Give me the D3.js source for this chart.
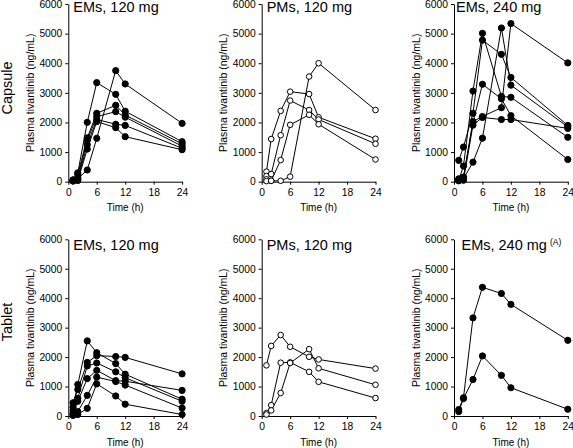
<!DOCTYPE html>
<html><head><meta charset="utf-8">
<script src="https://cdn.jsdelivr.net/npm/d3@7"></script>
<style>
body{margin:0;background:#fff;}
svg{display:block;font-family:"Liberation Sans",Arial,sans-serif;}
.axis path,.axis line{stroke:#000;stroke-width:1;}
.axis text{font-size:10.3px;fill:#000;font-family:"Liberation Sans",Arial,sans-serif;}
</style></head><body>
<script>
// ---- data ----
const times = [1, 2, 4, 6, 10, 12, 24];
const xTicks = [0, 6, 12, 18, 24];
const yTicks = [0, 1000, 2000, 3000, 4000, 5000, 6000];
const rowLabels = ["Capsule", "Tablet"];
const panelTitles = ["EMs, 120 mg", "PMs, 120 mg", "EMs, 240 mg", "EMs, 120 mg", "PMs, 120 mg", "EMs, 240 mg"];
const titleNotes = ["", "", "", "", "", "(A)"];

const capsuleEM120 = [
  [50, 100, 395, 1465, 3750, 3300, 1970],
  [60, 300, 2005, 3345, 2950, 2380, 1350],
  [40, 250, 1480, 2310, 2580, 2250, 1280],
  [30, 150, 1400, 2200, 2365, 2180, 1200],
  [20, 80, 1250, 2100, 1940, 1900, 1130],
  [50, 40, 1100, 2030, 1825, 1520, 1080]
];
const capsulePM120 = [
  [340, 1440, 2390, 3040, 2960, 2175, 1450],
  [190, 260, 1570, 2740, 2420, 2100, 1280],
  [80, 30, 730, 1920, 2260, 1940, 750],
  [20, 30, 30, 170, 3550, 4000, 2420]
];
const capsuleEM240 = [
  [50, 100, 660, 1470, 5190, 3260, 1850],
  [100, 150, 2030, 2200, 2500, 5340, 4010],
  [720, 1170, 2310, 4780, 4300, 3520, 1900],
  [60, 530, 3060, 5010, 2880, 2850, 1500],
  [40, 150, 2000, 3290, 2800, 2230, 750],
  [30, 50, 1910, 2170, 2100, 2100, 1800]
];
const tabletEM120 = [
  [300, 1070, 2550, 2150, 1780, 1420, 570],
  [450, 900, 1820, 2050, 2020, 1990, 1430],
  [200, 600, 1700, 1800, 1500, 1300, 500],
  [100, 500, 1270, 1550, 1200, 1180, 870],
  [50, 150, 700, 1320, 1170, 1050, 270],
  [20, 50, 260, 1090, 680, 400, 50]
];
const tabletPM120 = [
  [1720, 2380, 2750, 2350, 2010, 1920, 1610],
  [100, 370, 1810, 1820, 1500, 1160, 610],
  [50, 190, 780, 1800, 2270, 1620, 1060]
];
const tabletEM240 = [
  [220, 620, 3330, 4370, 4160, 3790, 2570],
  [150, 590, 1240, 2040, 1380, 960, 230]
];

// ---- layout ----
const W = 573, H = 448;
const colX = [68.3, 261.7, 454];
const plotW = 113.8;
const rowY = [[181.7, 4], [416, 239.3]];
const titleY = [11.5, 250];
const rowLabelY = [88, 322];

const panels = [
  {row: 0, col: 0, data: capsuleEM120, open: false},
  {row: 0, col: 1, data: capsulePM120, open: true},
  {row: 0, col: 2, data: capsuleEM240, open: false},
  {row: 1, col: 0, data: tabletEM120, open: false},
  {row: 1, col: 1, data: tabletPM120, open: true},
  {row: 1, col: 2, data: tabletEM240, open: false}
];

const svg = d3.select("body").append("svg").attr("width", W).attr("height", H);

rowLabels.forEach((lab, i) => {
  svg.append("text")
    .attr("transform", `translate(11.5,${rowLabelY[i]}) rotate(-90)`)
    .attr("text-anchor", "middle")
    .attr("font-size", "14.5px")
    .attr("fill", "#000")
    .text(lab);
});

panels.forEach((p, i) => {
  const x = d3.scaleLinear().domain([0, 24]).range([colX[p.col], colX[p.col] + plotW]);
  const y = d3.scaleLinear().domain([0, 6000]).range(rowY[p.row]);
  const g = svg.append("g");

  g.append("g").attr("class", "axis")
    .attr("transform", `translate(${x(0)},0)`)
    .call(d3.axisLeft(y).tickValues(yTicks).tickFormat(d3.format("d")).tickSize(3).tickPadding(3).tickSizeOuter(0));
  g.append("g").attr("class", "axis")
    .attr("transform", `translate(0,${y(0)})`)
    .call(d3.axisBottom(x).tickValues(xTicks).tickSize(3).tickPadding(4).tickSizeOuter(0));

  g.append("text")
    .attr("transform", `translate(${x(0) - 38},${(y(0) + y(6000)) / 2}) rotate(-90)`)
    .attr("text-anchor", "middle").attr("dy", "0.35em")
    .attr("font-size", "10.5px").attr("fill", "#000")
    .text("Plasma tivantinib (ng/mL)");

  g.append("text")
    .attr("x", (x(0) + x(24)) / 2).attr("y", y(0) + 29.5)
    .attr("text-anchor", "middle").attr("font-size", "10px").attr("fill", "#000")
    .text("Time (h)");

  const t = g.append("text")
    .attr("x", x(0) + (p.col === 2 ? (p.row === 0 ? 2 : 7.5) : 5))
    .attr("y", titleY[p.row])
    .attr("font-size", "14.5px").attr("fill", "#000")
    .text(panelTitles[i]);
  if (titleNotes[i]) {
    t.append("tspan").attr("font-size", "8.5px").attr("dx", "3").attr("dy", "-5").text(titleNotes[i]);
  }

  const line = d3.line().x((d, k) => x(times[k])).y(d => y(d));
  p.data.forEach(series => {
    g.append("path").datum(series)
      .attr("d", line).attr("fill", "none").attr("stroke", "#000").attr("stroke-width", 1);
  });
  p.data.forEach(series => {
    g.selectAll(null).data(series).enter().append("circle")
      .attr("cx", (d, k) => x(times[k])).attr("cy", d => y(d))
      .attr("r", p.open ? 2.8 : 3.1)
      .attr("fill", p.open ? "#fff" : "#000")
      .attr("stroke", "#000").attr("stroke-width", 1);
  });
});
</script>
</body></html>
